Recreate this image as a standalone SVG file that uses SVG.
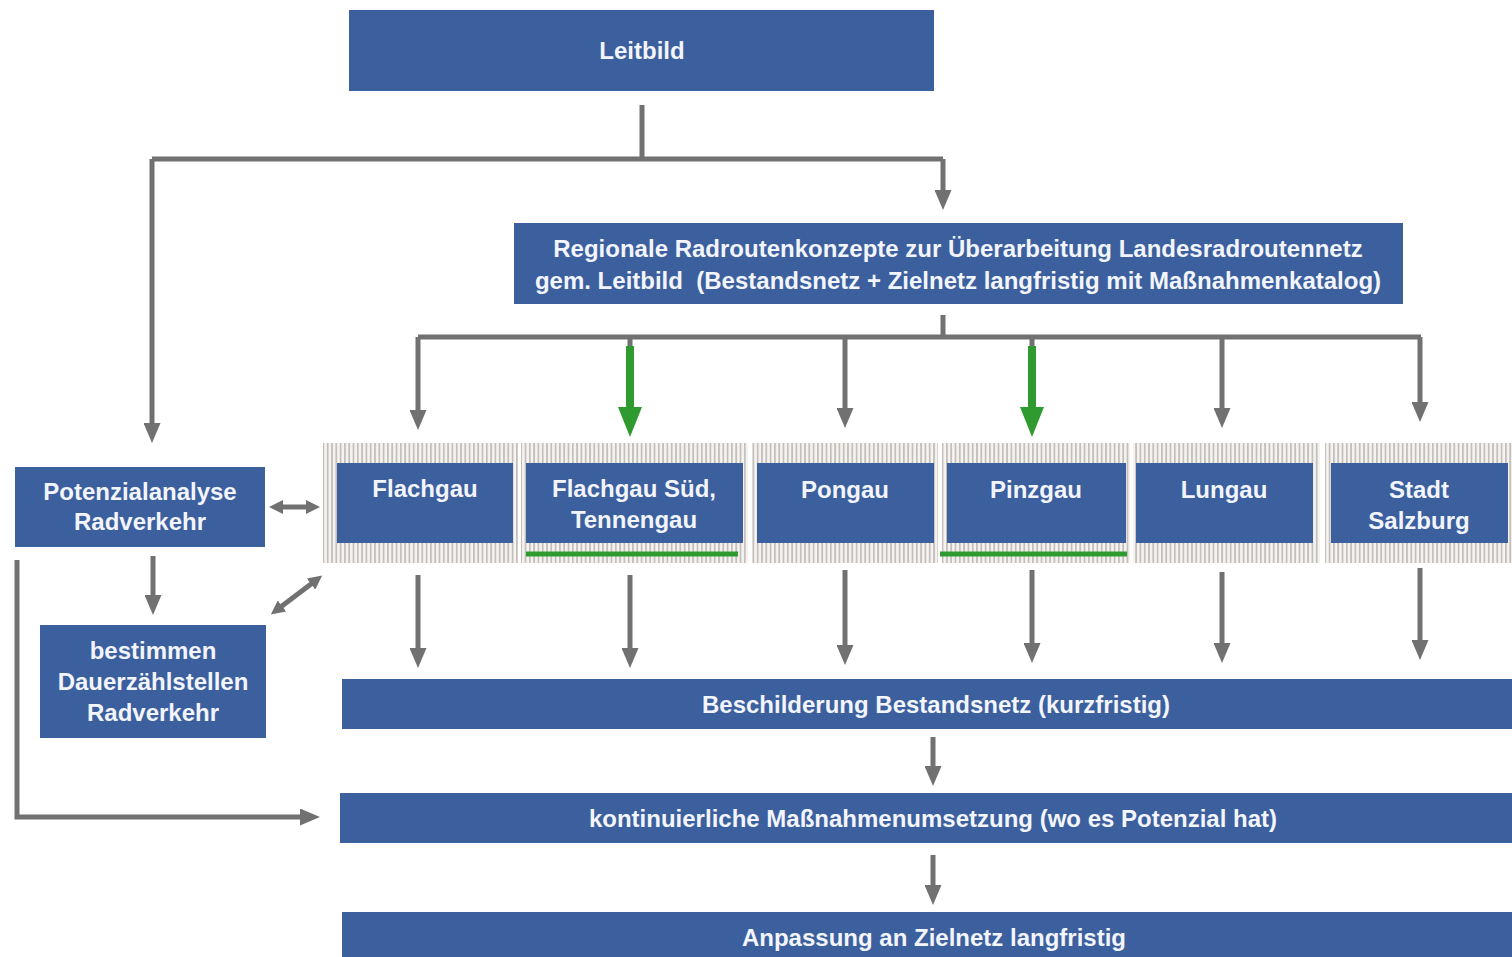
<svg xmlns="http://www.w3.org/2000/svg" width="1512" height="957" viewBox="0 0 1512 957">
<defs>
<style>
.box{fill:#3c5f9e;}
.t{fill:#f2f5fb;font-family:"Liberation Sans",Arial,sans-serif;font-weight:bold;font-size:24px;text-anchor:middle;}
.ln{stroke:#717171;stroke-width:5;fill:none;}
.gr{stroke:#2f9a30;stroke-width:8;fill:none;}
.ul{stroke:#2f9a30;stroke-width:5;}
.band{fill:url(#stripes);}
</style>
<pattern id="stripes" x="0" y="0" width="4.3" height="10" patternUnits="userSpaceOnUse">
<rect x="0" y="0" width="4.3" height="10" fill="#f6f4f2"/>
<rect x="0" y="0" width="1.8" height="10" fill="#c4bfbb"/>
</pattern>
<marker id="ah" viewBox="0 0 20 17" refX="6" refY="8.5" markerWidth="20" markerHeight="17" orient="auto" markerUnits="userSpaceOnUse">
<path d="M0,0 L20,8.5 L0,17 z" fill="#717171"/>
</marker>
<marker id="ahs" viewBox="0 0 14 14" refX="5" refY="7" markerWidth="14" markerHeight="14" orient="auto-start-reverse" markerUnits="userSpaceOnUse">
<path d="M0,0 L14,7 L0,14 z" fill="#717171"/>
</marker>
<marker id="gh" viewBox="0 0 30 24" refX="8" refY="12" markerWidth="30" markerHeight="24" orient="auto" markerUnits="userSpaceOnUse">
<path d="M0,0 L30,12 L0,24 z" fill="#2f9a30"/>
</marker>
</defs>
<rect width="1512" height="957" fill="#ffffff"/>

<g id="bands">
<rect class="band" x="323" y="443" width="195" height="120"/>
<rect class="band" x="521" y="443" width="227" height="120"/>
<rect class="band" x="752" y="443" width="186" height="120"/>
<rect class="band" x="942" y="443" width="188" height="120"/>
<rect class="band" x="1133" y="443" width="187" height="120"/>
<rect class="band" x="1325" y="443" width="187" height="120"/>
</g>

<g id="connectors">
<path class="ln" d="M642,105 V159"/>
<path class="ln" d="M152,159 H943"/>
<path class="ln" d="M152,159 V429" marker-end="url(#ah)"/>
<path class="ln" d="M943,159 V196" marker-end="url(#ah)"/>
<path class="ln" d="M943,315 V337"/>
<path class="ln" d="M418,337 H1421"/>
<path class="ln" d="M418,337 V416" marker-end="url(#ah)"/>
<path class="ln" d="M630,337 V348"/>
<path class="ln" d="M845,337 V414" marker-end="url(#ah)"/>
<path class="ln" d="M1032,337 V348"/>
<path class="ln" d="M1222,337 V414" marker-end="url(#ah)"/>
<path class="ln" d="M1420,337 V408" marker-end="url(#ah)"/>
<path class="gr" d="M630,346 V415" marker-end="url(#gh)"/>
<path class="gr" d="M1032,346 V415" marker-end="url(#gh)"/>
<path class="ln" d="M418,575 V654" marker-end="url(#ah)"/>
<path class="ln" d="M630,575 V654" marker-end="url(#ah)"/>
<path class="ln" d="M845,570 V651" marker-end="url(#ah)"/>
<path class="ln" d="M1032,570 V649" marker-end="url(#ah)"/>
<path class="ln" d="M1222,572 V649" marker-end="url(#ah)"/>
<path class="ln" d="M1420,568 V646" marker-end="url(#ah)"/>
<path class="ln" d="M933,737 V772" marker-end="url(#ah)"/>
<path class="ln" d="M933,855 V891" marker-end="url(#ah)"/>
<path class="ln" d="M153,556 V601" marker-end="url(#ah)"/>
<path class="ln" d="M278,507 H311" marker-start="url(#ahs)" marker-end="url(#ahs)"/>
<path class="ln" d="M278,609 L315,581" marker-start="url(#ahs)" marker-end="url(#ahs)"/>
<path class="ln" d="M17,560 V817 H306" marker-end="url(#ah)"/>
</g>

<g id="leitbild"><rect class="box" x="349" y="10" width="585" height="81"/><text class="t" x="642" y="59">Leitbild</text></g>
<g id="regional"><rect class="box" x="514" y="223" width="889" height="81"/>
<text class="t" x="958" y="257">Regionale Radroutenkonzepte zur Überarbeitung Landesradroutennetz</text>
<text class="t" x="958" y="289">gem. Leitbild&#160; (Bestandsnetz + Zielnetz langfristig mit Maßnahmenkatalog)</text></g>

<g id="flachgau"><rect class="box" x="337" y="463" width="176" height="80"/><text class="t" x="425" y="497">Flachgau</text></g>
<g id="flachgau-sued"><rect class="box" x="526" y="463" width="217" height="80"/><text class="t" x="634" y="497">Flachgau Süd,</text><text class="t" x="634" y="528">Tennengau</text></g>
<g id="pongau"><rect class="box" x="757" y="463" width="177" height="80"/><text class="t" x="845" y="498">Pongau</text></g>
<g id="pinzgau"><rect class="box" x="947" y="463" width="179" height="80"/><text class="t" x="1036" y="498">Pinzgau</text></g>
<g id="lungau"><rect class="box" x="1136" y="463" width="177" height="80"/><text class="t" x="1224" y="498">Lungau</text></g>
<g id="stadt-salzburg"><rect class="box" x="1331" y="463" width="177" height="80"/><text class="t" x="1419" y="498">Stadt</text><text class="t" x="1419" y="529">Salzburg</text></g>

<g id="underlines">
<line class="ul" x1="526" y1="554" x2="738" y2="554"/>
<line class="ul" x1="940" y1="554" x2="1127" y2="554"/>
</g>

<g id="potenzial"><rect class="box" x="15" y="467" width="250" height="80"/><text class="t" x="140" y="500">Potenzialanalyse</text><text class="t" x="140" y="530">Radverkehr</text></g>
<g id="dauer"><rect class="box" x="40" y="625" width="226" height="113"/><text class="t" x="153" y="659">bestimmen</text><text class="t" x="153" y="690">Dauerzählstellen</text><text class="t" x="153" y="721">Radverkehr</text></g>

<g id="beschilderung"><rect class="box" x="342" y="679" width="1170" height="50"/><text class="t" x="936" y="713">Beschilderung Bestandsnetz (kurzfristig)</text></g>
<g id="massnahmen"><rect class="box" x="340" y="793" width="1172" height="50"/><text class="t" x="933" y="827">kontinuierliche Maßnahmenumsetzung (wo es Potenzial hat)</text></g>
<g id="anpassung"><rect class="box" x="342" y="912" width="1170" height="50"/><text class="t" x="934" y="946">Anpassung an Zielnetz langfristig</text></g>
</svg>
